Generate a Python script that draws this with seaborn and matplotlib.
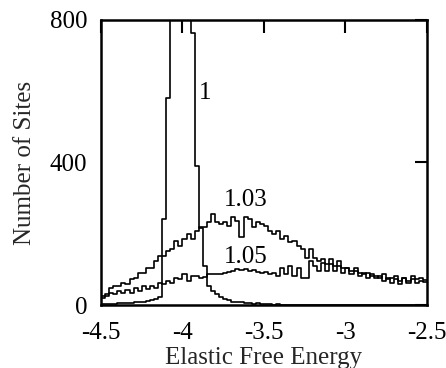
import numpy as np
import pandas as pd
import seaborn as sns
import matplotlib
matplotlib.use("Agg")
import matplotlib.pyplot as plt
from matplotlib.ticker import FixedLocator

# Histogram bins of the elastic free energy
bin_start = -4.5
bin_width = 0.025

sites_1 = [3, 3, 4, 4, 5, 5, 6, 6, 8, 8,
           10, 12, 15, 18, 22, 241, 580, 1000, 1100, 1050,
           950, 900, 763, 389, 217, 110, 54, 40, 30, 22,
           18, 14, 10, 8, 8, 6, 7, 4, 5, 3,
           2, 2, 1, 2, 1, 1, 1, 1, 1, 1,
           1, 1, 1, 0, 1, 1, 0, 1, 0, 1,
           1, 0, 1, 0, 0, 1, 0, 1, 0, 0,
           1, 0, 0, 1, 0, 0, 1, 0, 0, 1]

sites_103 = [25, 30, 49, 54, 54, 63, 60, 72, 77, 91,
             91, 105, 105, 124, 138, 138, 152, 157, 180, 166,
             185, 199, 185, 208, 218, 218, 232, 255, 232, 227,
             232, 223, 246, 237, 190, 246, 241, 218, 232, 227,
             223, 208, 199, 208, 185, 194, 176, 180, 166, 157,
             133, 157, 133, 124, 129, 115, 129, 110, 124, 105,
             105, 96, 105, 91, 86, 91, 82, 82, 77, 86,
             72, 77, 82, 68, 77, 68, 82, 72, 77, 70]

sites_105 = [20, 25, 35, 30, 40, 35, 41, 35, 47, 40,
             54, 44, 54, 49, 63, 58, 68, 63, 77, 72,
             86, 68, 82, 82, 77, 79, 86, 88, 86, 88,
             91, 94, 96, 100, 98, 100, 96, 98, 94, 91,
             94, 86, 91, 82, 105, 86, 110, 82, 105, 77,
             77, 124, 110, 96, 119, 96, 115, 96, 110, 91,
             105, 86, 96, 82, 91, 77, 86, 77, 82, 68,
             77, 63, 72, 58, 77, 63, 72, 63, 68, 65]

curve_labels = ["1", "1.03", "1.05"]
label_pos = [(-3.862, 594), (-3.61, 296), (-3.61, 135)]

x_ticks = [-4.5, -4, -3.5, -3, -2.5]
x_tick_labels = ["-4.5", "-4", "-3.5", "-3", "-2.5"]
y_ticks = [0, 400, 800]

n_bins = len(sites_1)
centers = bin_start + bin_width * (np.arange(n_bins) + 0.5)

frames = []
for name, counts in zip(curve_labels, [sites_1, sites_103, sites_105]):
    frames.append(pd.DataFrame({"energy": centers,
                                "sites": np.asarray(counts, dtype=float),
                                "ratio": name}))
data = pd.concat(frames, ignore_index=True)

sns.set_style("white")
plt.rcParams["font.family"] = ["Liberation Serif", "DejaVu Serif"]

fig = plt.figure(figsize=(4.46, 3.68), dpi=100)
ax = fig.add_axes([0.2265, 0.171, 0.7305, 0.775])

for name in curve_labels:
    sub = data[data["ratio"] == name]
    sns.histplot(data=sub, x="energy", weights="sites",
                 binwidth=bin_width, binrange=(bin_start, bin_start + bin_width * n_bins),
                 element="step", fill=False, color="black", linewidth=1.2,
                 ax=ax)

# zero axis
ax.axhline(0, color="black", linestyle=(0, (1, 2)), linewidth=0.8)

for name, (tx, ty) in zip(curve_labels, label_pos):
    ax.text(tx, ty, name, fontsize=18, ha="center", va="center", color="black")

ax.set_xlim(-4.5, -2.5)
ax.set_ylim(0, 800)
ax.xaxis.set_major_locator(FixedLocator(x_ticks))
ax.set_xticklabels(x_tick_labels)
ax.yaxis.set_major_locator(FixedLocator(y_ticks))
ax.tick_params(direction="in", length=9, width=1.5, top=True, right=True,
               labelsize=18, colors="black", pad=10)
ax.tick_params(axis="x", pad=12)
for spine in ax.spines.values():
    spine.set_linewidth(1.8)
    spine.set_color("black")

ax.set_xlabel("Elastic Free Energy", fontsize=18, labelpad=2)
ax.set_ylabel("Number of Sites", fontsize=18, labelpad=10)

fig.savefig("out.png", dpi=100)
